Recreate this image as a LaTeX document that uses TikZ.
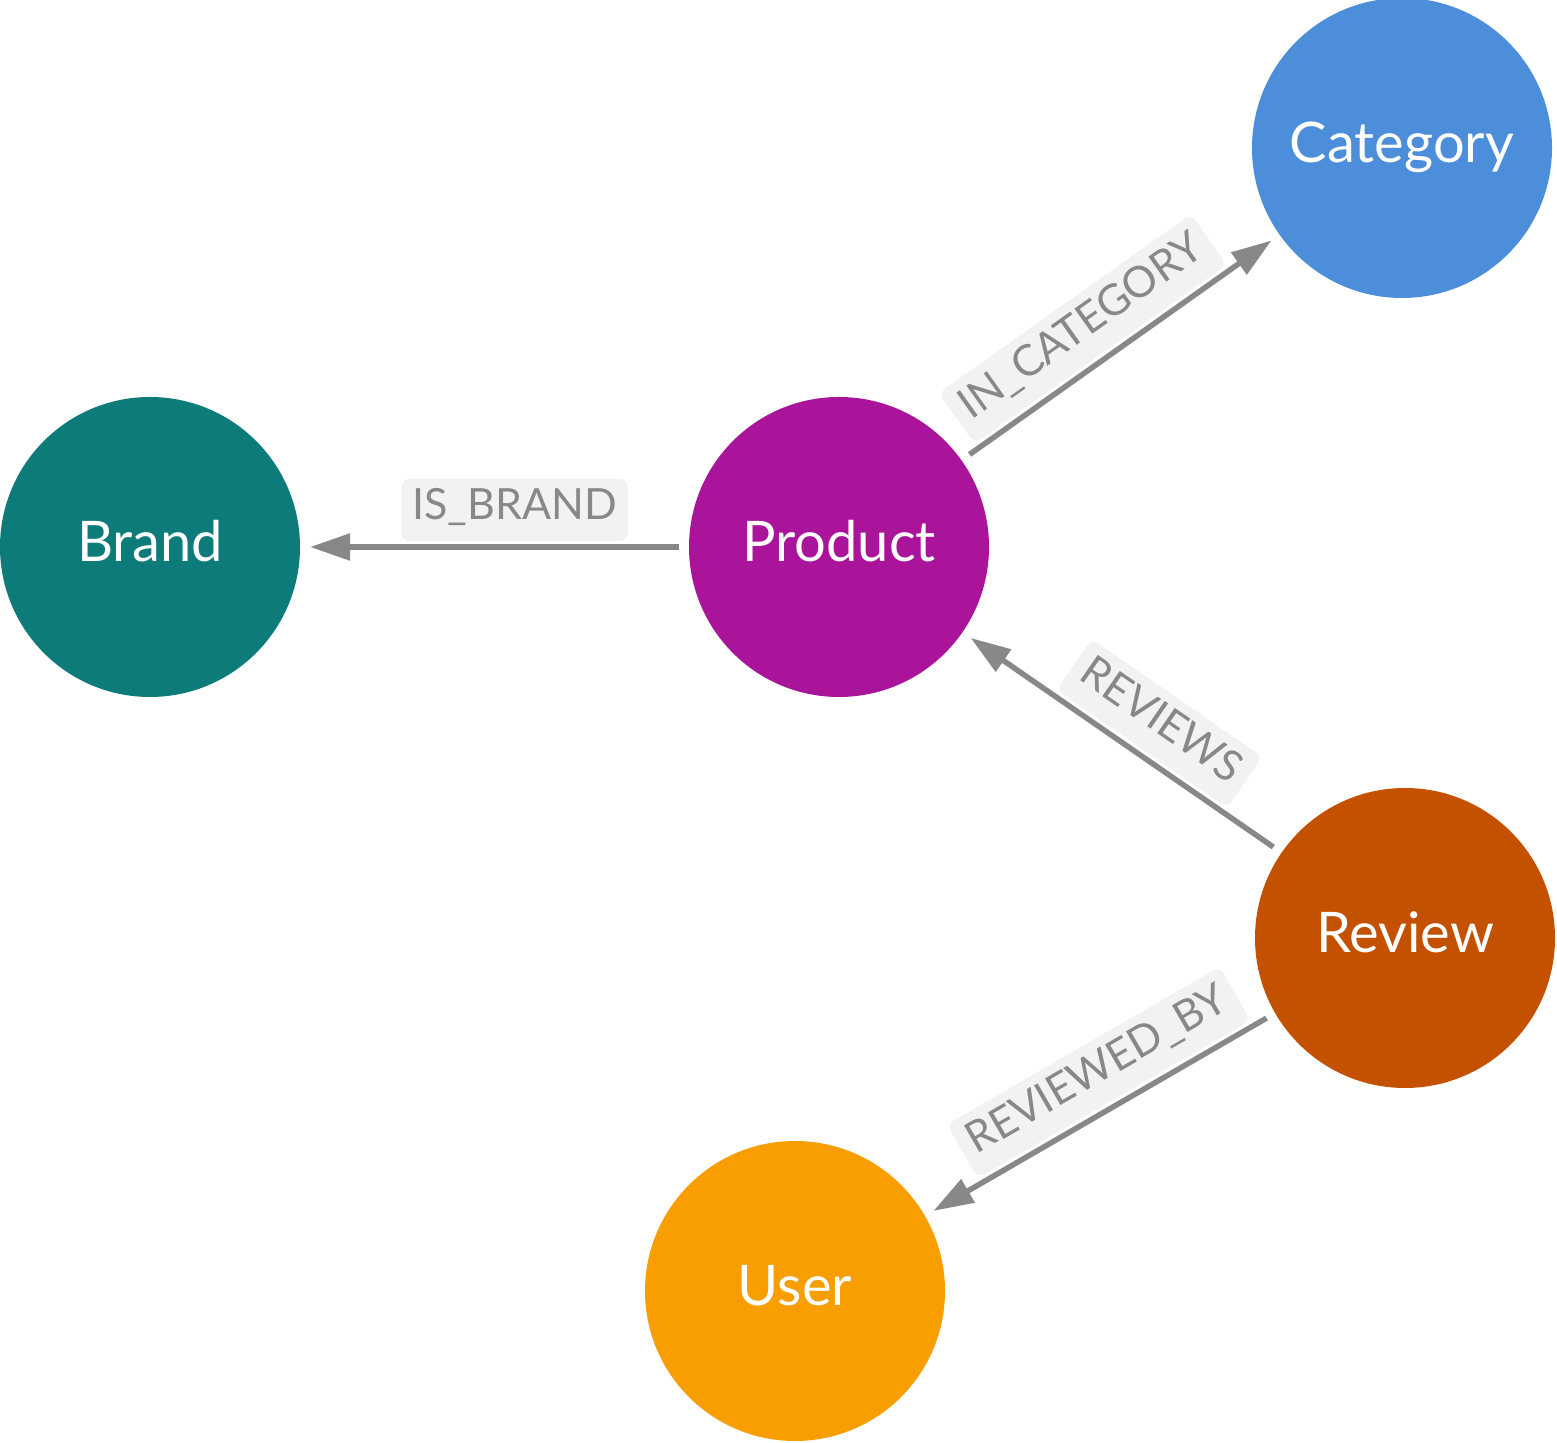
\documentclass[tikz,border=0pt]{standalone}
\usepackage{fontspec}
\setmainfont{Lato}
\usetikzlibrary{arrows.meta,calc}
\definecolor{cCat}{RGB}{76,142,218}
\definecolor{cBrand}{RGB}{14,123,123}
\definecolor{cProd}{RGB}{170,20,155}
\definecolor{cRev}{RGB}{195,81,0}
\definecolor{cUser}{RGB}{248,158,0}
\definecolor{edgegray}{RGB}{136,136,136}
\definecolor{labelbg}{RGB}{242,242,242}
\begin{document}
\begin{tikzpicture}[x=1pt,y=1pt,
  entity/.style={circle, minimum size=300pt, inner sep=0pt, outer sep=0pt,
    text=white, font=\fontsize{56}{60}\selectfont, text height=45pt, text depth=15pt},
  rel/.style={draw=edgegray, line width=5.5pt, shorten <=10pt, shorten >=10pt,
    -{Triangle[length=40pt,width=26pt]}},
  rellabel/.style={fill=labelbg, rounded corners=8pt, text=edgegray,
    font=\fontsize{43}{48}\selectfont, inner xsep=11pt, inner ysep=0pt,
    text height=41pt, text depth=21pt, anchor=south, outer sep=0pt, outer ysep=6pt}]
\useasboundingbox (0,0) rectangle (1557,1442);
\node[entity, fill=cCat]   (cat)   at (1402,1294) {Category};
\node[entity, fill=cBrand] (brand) at (150,895)   {Brand};
\node[entity, fill=cProd]  (prod)  at (839,895)   {Product};
\node[entity, fill=cRev]   (rev)   at (1405,504)  {Review};
\node[entity, fill=cUser]  (user)  at (795,151)   {User};
% edges
\draw[rel] (prod) -- (brand);
\draw[rel] (prod) -- (cat);
\draw[rel] (rev) -- (prod);
\draw[rel] (rev) -- (user);
% label positions (middle of the shaft)
\coordinate (c1) at ($(prod)!0.5!(brand)$);
\coordinate (m1) at ($(c1)!20pt!(prod)$);
\coordinate (c2) at ($(prod)!0.5!(cat)$);
\coordinate (m2) at ($(c2)!20pt!(prod)$);
\coordinate (c3) at ($(rev)!0.5!(prod)$);
\coordinate (m3) at ($(c3)!20pt!(rev)$);
\coordinate (c4) at ($(rev)!0.5!(user)$);
\coordinate (m4) at ($(c4)!20pt!(rev)$);
\node[rellabel, rotate=0]      (l1) at (m1) {IS\_BRAND};
\node[rellabel, rotate=35.33]  (l2) at (m2) {IN\_CATEGORY};
\node[rellabel, rotate=-34.64] (l3) at (m3) {REVIEWS};
\node[rellabel, rotate=30.06]  (l4) at (m4) {REVIEWED\_BY};
\end{tikzpicture}
\end{document}
